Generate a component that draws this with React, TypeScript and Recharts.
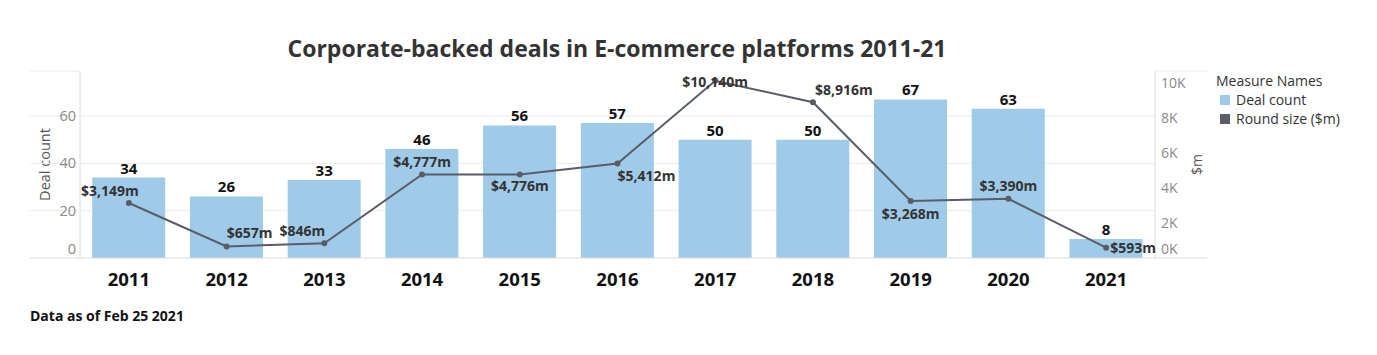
import { Bar, CartesianGrid, ComposedChart, LabelList, Line, XAxis, YAxis } from 'recharts';

const years = ['2011', '2012', '2013', '2014', '2015', '2016', '2017', '2018', '2019', '2020', '2021'];
const dealCounts = [34, 26, 33, 46, 56, 57, 50, 50, 67, 63, 8];
const roundSizes = [3149, 657, 846, 4777, 4776, 5412, 10140, 8916, 3268, 3390, 593];

const leftTicks = [0, 20, 40, 60, 79];
const rightTicks = [0, 2000, 4000, 6000, 8000, 10000, 10700];

// label nudges for the round size labels (dx, dy from the point), like the original placement
const roundLabelNudge: Array<[number, number]> = [
  [-19, -12],
  [23, -13],
  [-22, -12],
  [0, -12],
  [0, 12],
  [29, 13],
  [0, 1],
  [31, -12],
  [0, 13],
  [0, -13],
  [27, 0],
];

const FONT = '"Open Sans", sans-serif';
const BAR_COLOR = '#9fcae8';
const LINE_COLOR = '#585d68';
const GRID = '#ececec';
const AXIS = '#dcdcdc';

const data = years.map((year, i) => ({ year, count: dealCounts[i], round: roundSizes[i] }));

const LeftTick = (props: any) => {
  const { x, y, payload } = props;
  const v = payload.value;
  return (
    <g>
      <line x1={x - 50} x2={x} y1={y} y2={y} stroke={v === 0 ? AXIS : GRID} />
      {v !== 79 && (
        <text x={x - 4} y={v === 0 ? y - 9 : y} dy="0.35em" textAnchor="end" fill="#8a8a8a" fontSize={14.5} fontFamily={FONT}>
          {v}
        </text>
      )}
    </g>
  );
};

const RightTick = (props: any) => {
  const { x, y, payload } = props;
  const v = payload.value;
  const edge = v === 0 || v === 10700;
  return (
    <g>
      {edge && <line x1={x} x2={x + 52} y1={y} y2={y} stroke={v === 0 ? AXIS : GRID} />}
      {v !== 10700 && (
        <text x={x + 6} y={v === 0 ? y - 9 : y} dy="0.35em" textAnchor="start" fill="#8a8a8a" fontSize={14} fontFamily={FONT}>
          {`${v / 1000}K`}
        </text>
      )}
    </g>
  );
};

const RoundLabel = (props: any) => {
  const { x, y, index, value } = props;
  const [dx, dy] = roundLabelNudge[index] ?? [0, -12];
  return (
    <text x={x + dx} y={y + dy} dy="0.35em" textAnchor="middle" fill="#333" fontSize={14} fontWeight={700} fontFamily={FONT}>
      {`$${Number(value).toLocaleString('en-US')}m`}
    </text>
  );
};

const legendItems: Array<[string, string]> = [
  ['Deal count', BAR_COLOR],
  ['Round size ($m)', LINE_COLOR],
];

export default function App() {
  return (
    <div style={{ position: 'absolute', left: 0, top: 0, width: 1377, height: 355, background: '#fff', fontFamily: FONT }}>
      <div
        style={{
          position: 'absolute',
          top: 32,
          left: 0,
          width: 1234,
          textAlign: 'center',
          fontSize: 23,
          fontWeight: 700,
          color: '#333',
        }}
      >
        Corporate-backed deals in E-commerce platforms 2011-21
      </div>
      <ComposedChart width={1377} height={355} data={data} margin={{ top: 71, right: 170, bottom: 67, left: 30 }} barCategoryGap="12.5%">
        <CartesianGrid vertical={false} stroke={GRID} horizontalValues={[20, 40, 60]} yAxisId="left" />
        <XAxis
          dataKey="year"
          tickLine={false}
          axisLine={{ stroke: AXIS }}
          height={30}
          tickSize={0}
          tickMargin={15}
          tick={{ fontSize: 18.5, fontWeight: 700, fill: '#111', fontFamily: FONT }}
        />
        <YAxis
          yAxisId="left"
          orientation="left"
          width={50}
          domain={[0, 79]}
          ticks={leftTicks}
          tickSize={0}
          tickMargin={0}
          tickLine={false}
          axisLine={{ stroke: AXIS }}
          tick={<LeftTick />}
          interval={0}
          label={{
            content: ({ viewBox }: any) => (
              <text
                x={viewBox.x + 15}
                y={viewBox.y + viewBox.height / 2}
                transform={`rotate(-90 ${viewBox.x + 15} ${viewBox.y + viewBox.height / 2})`}
                textAnchor="middle"
                dy="0.35em"
                fontSize={14.5}
                fill="#555"
                fontFamily={FONT}
              >
                Deal count
              </text>
            ),
          }}
        />
        <YAxis
          yAxisId="right"
          orientation="right"
          width={52}
          domain={[0, 10700]}
          ticks={rightTicks}
          tickSize={0}
          tickMargin={0}
          tickLine={false}
          axisLine={{ stroke: AXIS }}
          tick={<RightTick />}
          interval={0}
          label={{
            content: ({ viewBox }: any) => (
              <text
                x={viewBox.x + 42}
                y={viewBox.y + viewBox.height / 2}
                transform={`rotate(-90 ${viewBox.x + 42} ${viewBox.y + viewBox.height / 2})`}
                textAnchor="middle"
                dy="0.35em"
                fontSize={14}
                fill="#555"
                fontFamily={FONT}
              >
                $m
              </text>
            ),
          }}
        />
        <Bar yAxisId="left" dataKey="count" name="Deal count" fill={BAR_COLOR} isAnimationActive={false}>
          <LabelList dataKey="count" position="top" offset={4} fill="#111" fontSize={15} fontWeight={700} fontFamily={FONT} />
        </Bar>
        <Line
          yAxisId="right"
          dataKey="round"
          name="Round size ($m)"
          stroke={LINE_COLOR}
          strokeWidth={2}
          dot={{ r: 2, fill: LINE_COLOR, stroke: LINE_COLOR }}
          activeDot={false}
          isAnimationActive={false}
        >
          <LabelList dataKey="round" content={<RoundLabel />} />
        </Line>
      </ComposedChart>
      <div style={{ position: 'absolute', left: 1216, top: 71, fontSize: 14, color: '#333', lineHeight: '19px' }}>
        <div>Measure Names</div>
        {legendItems.map(([name, color]) => (
          <div key={name} style={{ display: 'flex', alignItems: 'center' }}>
            <span style={{ width: 10, height: 10, background: color, marginLeft: 4, marginRight: 6, display: 'inline-block' }} />
            {name}
          </div>
        ))}
      </div>
      <div style={{ position: 'absolute', left: 30, top: 306, fontSize: 14, fontWeight: 700, color: '#111' }}>Data as of Feb 25 2021</div>
    </div>
  );
}
